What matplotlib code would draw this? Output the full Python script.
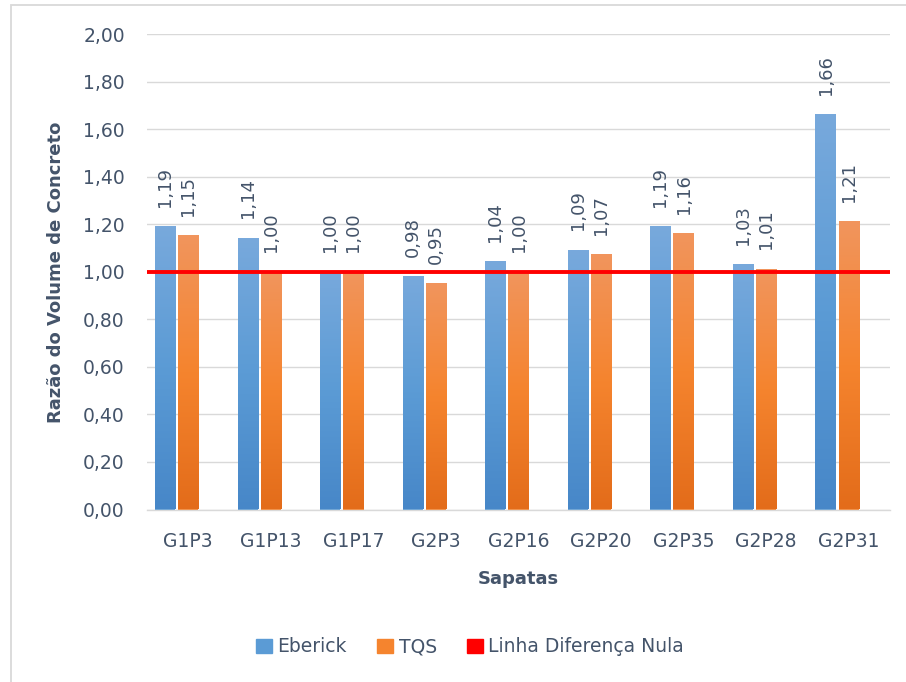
import numpy as np
import matplotlib
matplotlib.use('Agg')
import matplotlib.pyplot as plt
from matplotlib.patches import Patch, Rectangle
from matplotlib.colors import to_rgb

# dados
sapatas = ["G1P3", "G1P13", "G1P17", "G2P3", "G2P16", "G2P20", "G2P35", "G2P28", "G2P31"]
eberick = [1.19, 1.14, 1.00, 0.98, 1.04, 1.09, 1.19, 1.03, 1.66]
tqs = [1.15, 1.00, 1.00, 0.95, 1.00, 1.07, 1.16, 1.01, 1.21]
linha_nula = 1.00
yticks = [0.0, 0.2, 0.4, 0.6, 0.8, 1.0, 1.2, 1.4, 1.6, 1.8, 2.0]

txt = '#44546a'
grid_c = '#d9d9d9'
# gradientes (topo, meio, base)
grad_azul = ['#78a9dc', '#5b9bd5', '#4787c8']
grad_laranja = ['#f1955d', '#f5842e', '#e36c1a']

plt.rcParams['font.family'] = ['DejaVu Sans']

fig = plt.figure(figsize=(9.06, 6.82), dpi=100)
ax = fig.add_axes([147/906, 1-509.5/682, (890-147)/906, (509.5-34.3)/682])

x = np.arange(len(sapatas))
w = 0.245
off = 0.28


def gradiente(cores, n=256):
    c = np.array([to_rgb(k) for k in cores])  # topo, meio, base
    t = np.linspace(0, 1, n)[:, None]  # 0 = base, 1 = topo
    baixo = c[2] + (c[1]-c[2]) * np.clip(t*2, 0, 1)
    cima = c[1] + (c[0]-c[1]) * np.clip(t*2-1, 0, 1)
    img = np.where(t < 0.5, baixo, cima)
    return img[:, None, :]


b1 = ax.bar(x - off, eberick, w, color=grad_azul[1], zorder=2, label='Eberick')
b2 = ax.bar(x, tqs, w, color=grad_laranja[1], zorder=2, label='TQS')

for barras, cores in [(b1, grad_azul), (b2, grad_laranja)]:
    img = gradiente(cores)
    for p in barras:
        x0, y0 = p.get_x(), p.get_y()
        ax.imshow(img, extent=[x0, x0+p.get_width(), y0, y0+p.get_height()],
                  origin='lower', aspect='auto', zorder=2.1, interpolation='bilinear')

for barras, vals in [(b1, eberick), (b2, tqs)]:
    for p, v in zip(barras, vals):
        ax.annotate(f"{v:.2f}".replace('.', ','), (p.get_x()+p.get_width()/2, v),
                    xytext=(0, 14.5), textcoords='offset points', rotation=90,
                    ha='center', va='bottom', fontsize=13, color=txt)

ax.axhline(linha_nula, color='#ff0000', lw=2.8, zorder=3)

ax.set_xlim(-0.5, len(sapatas)-0.5)
ax.set_ylim(0, 2.0)
ax.set_yticks(yticks)
ax.set_yticklabels([f"{v:.2f}".replace('.', ',') for v in yticks])
ax.set_xticks(x)
ax.set_xticklabels(sapatas)
ax.tick_params(axis='both', length=0, labelsize=13.5, labelcolor=txt)
ax.tick_params(axis='y', pad=16)
ax.tick_params(axis='x', pad=16)
ax.yaxis.grid(True, color=grid_c, lw=1.0, zorder=0)
ax.set_axisbelow(True)
for s in ['top', 'right', 'left']:
    ax.spines[s].set_visible(False)
ax.spines['bottom'].set_color(grid_c)
ax.spines['bottom'].set_linewidth(1.0)

ax.set_xlabel('Sapatas', fontsize=13, fontweight='bold', color=txt, labelpad=14)
ax.set_ylabel('Razão do Volume de Concreto', fontsize=13, fontweight='bold', color=txt, labelpad=13)

handles = [Patch(color=grad_azul[1]), Patch(color=grad_laranja[1]), Patch(color='#ff0000')]
fig.legend(handles, ['Eberick', 'TQS', 'Linha Diferença Nula'], loc='center',
           bbox_to_anchor=(470/906, 1-647/682), ncol=3, frameon=False, fontsize=13.5,
           labelcolor=txt, handlelength=0.85, handleheight=0.85, handletextpad=0.3,
           columnspacing=1.6)

fig.patches.append(Rectangle((11/906, -0.1), 2, 1-5/682+0.1, transform=fig.transFigure,
                             fill=False, ec=grid_c, lw=1.3))

fig.savefig('out.png', dpi=100)
